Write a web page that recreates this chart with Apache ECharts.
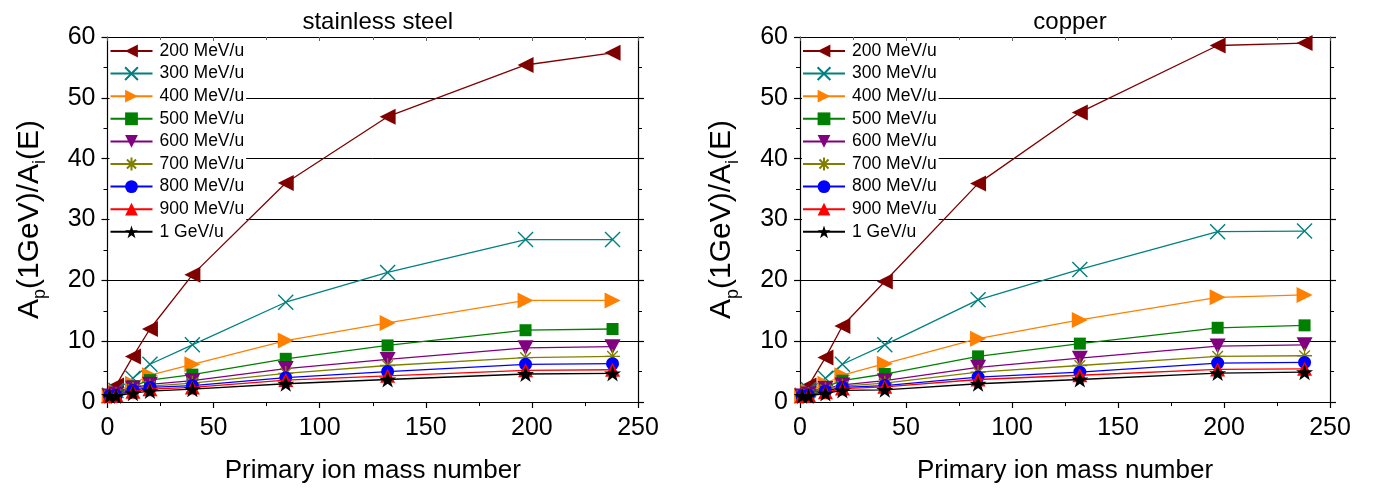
<!DOCTYPE html>
<html>
<head>
<meta charset="utf-8">
<script src="https://cdn.jsdelivr.net/npm/echarts@6/dist/echarts.min.js"></script>
<style>
html,body{margin:0;padding:0;background:#fff;}
#chart{width:1377px;height:489px;}
</style>
</head>
<body>
<div id="chart"></div>
<script>
// Primary ion mass numbers (x)
const massNumbers = [1, 4, 12, 20, 40, 84, 132, 197, 238];
const seriesNames = ['200 MeV/u','300 MeV/u','400 MeV/u','500 MeV/u','600 MeV/u','700 MeV/u','800 MeV/u','900 MeV/u','1 GeV/u'];
const panelTitles = ['stainless steel', 'copper'];
const xTicks = [0, 50, 100, 150, 200, 250];
const yTicks = [0, 10, 20, 30, 40, 50, 60];

// stainless steel
const steel200 = [1.2, 2.7, 7.5, 12.0, 20.9, 36.0, 46.9, 55.4, 57.4];
const steel300 = [1.1, 1.9, 3.9, 6.2, 9.4, 16.4, 21.3, 26.7, 26.7];
const steel400 = [1.0, 1.6, 3.0, 4.4, 6.2, 10.1, 13.0, 16.7, 16.7];
const steel500 = [1.0, 1.4, 2.6, 3.6, 4.5, 7.1, 9.3, 11.8, 12.0];
const steel600 = [1.0, 1.3, 2.3, 2.9, 3.5, 5.5, 7.0, 8.9, 9.1];
const steel700 = [1.0, 1.2, 2.1, 2.6, 3.1, 4.7, 6.0, 7.3, 7.5];
const steel800 = [1.0, 1.1, 1.9, 2.4, 2.7, 4.0, 5.0, 6.2, 6.3];
const steel900 = [1.0, 1.1, 1.7, 2.1, 2.4, 3.6, 4.3, 5.2, 5.3];
const steel1000 = [1.0, 1.0, 1.45, 1.8, 2.1, 3.0, 3.7, 4.6, 4.7];

// copper
const copper200 = [1.2, 2.7, 7.3, 12.5, 19.8, 35.9, 47.6, 58.6, 59.0];
const copper300 = [1.1, 2.0, 3.9, 6.2, 9.4, 16.8, 21.8, 28.0, 28.1];
const copper400 = [1.0, 1.7, 3.0, 4.4, 6.3, 10.4, 13.5, 17.2, 17.6];
const copper500 = [1.0, 1.5, 2.5, 3.5, 4.6, 7.5, 9.6, 12.2, 12.6];
const copper600 = [1.0, 1.3, 2.2, 2.8, 3.5, 5.7, 7.2, 9.2, 9.4];
const copper700 = [1.0, 1.2, 2.0, 2.6, 3.1, 4.9, 6.0, 7.5, 7.6];
const copper800 = [1.0, 1.1, 1.8, 2.4, 2.7, 4.1, 4.9, 6.4, 6.5];
const copper900 = [1.0, 1.1, 1.6, 2.2, 2.5, 3.7, 4.4, 5.35, 5.45];
const copper1000 = [1.0, 1.0, 1.4, 1.9, 2.0, 3.0, 3.7, 4.75, 4.9];

const steelSets = [steel200, steel300, steel400, steel500, steel600, steel700, steel800, steel900, steel1000];
const copperSets = [copper200, copper300, copper400, copper500, copper600, copper700, copper800, copper900, copper1000];

const FONT = 'Liberation Sans, Arial, Helvetica, sans-serif';
const styles = [
  {color:'#800000', symbol:'path://M0,5L10,0L10,10Z', size:[16,16], fill:true},
  {color:'#008080', symbol:'path://M0,0L10,10M10,0L0,10', size:[15,15], fill:false},
  {color:'#FF8000', symbol:'path://M10,5L0,0L0,10Z', size:[16,16], fill:true},
  {color:'#008000', symbol:'rect', size:[12,12], fill:true},
  {color:'#800080', symbol:'path://M0,0L10,0L5,10Z', size:[16,15], fill:true},
  {color:'#808000', symbol:'path://M5,0L5,10M0,5L10,5M1.46,1.46L8.54,8.54M8.54,1.46L1.46,8.54', size:[15,15], fill:false},
  {color:'#0000FF', symbol:'circle', size:[13,13], fill:true},
  {color:'#FF0000', symbol:'triangle', size:[15,14], fill:true},
  {color:'#000000', symbol:'path://M50,0L61.8,35.5L99,35.5L69,57.5L80.3,93L50,71L19.7,93L31,57.5L1,35.5L38.2,35.5Z', size:[17,16], fill:true}
];

function makeSeries(sets, gridIdx) {
  return sets.map((vals, i) => {
    const st = styles[i];
    return {
      name: seriesNames[i],
      type: 'line',
      xAxisIndex: gridIdx * 2,
      yAxisIndex: gridIdx * 2,
      data: massNumbers.map((m, j) => [m, vals[j]]),
      symbol: st.symbol,
      symbolSize: st.size,
      showAllSymbol: true,
      lineStyle: {color: st.color, width: 1.3},
      itemStyle: st.fill ? {color: st.color, borderColor: st.color, borderWidth: 0}
                         : {color: st.color, borderColor: st.color, borderWidth: 1.4},
      emphasis: {disabled: true},
      animation: false,
      z: 3 + i
    };
  });
}

const gridLefts = [107.5, 800];
const gridRights = [739, 47];
const centers = [372.75, 1065];

function xAxes(g) {
  const common = {
    type: 'value', gridIndex: g, min: xTicks[0], max: xTicks[xTicks.length-1], interval: xTicks[1]-xTicks[0],
    axisLine: {show: true, onZero: false, lineStyle: {color: '#000', width: 1.2}},
    splitLine: {show: false}
  };
  return [
    Object.assign({}, common, {
      position: 'bottom',
      axisTick: {show: true, inside: false, length: 6, lineStyle: {color: '#000', width: 1.2}},
      minorTick: {show: true, splitNumber: 2, length: 4, lineStyle: {color: '#000', width: 1}},
      axisLabel: {show: true, color: '#000', fontSize: 25, fontFamily: FONT, margin: 14},
      name: 'Primary ion mass number', nameLocation: 'middle', nameGap: 56,
      nameTextStyle: {color: '#000', fontSize: 26, fontFamily: FONT}
    }),
    Object.assign({}, common, {
      position: 'top',
      axisTick: {show: true, inside: true, length: 4, lineStyle: {color: '#666', width: 1}},
      minorTick: {show: true, splitNumber: 2, length: 3, lineStyle: {color: '#666', width: 1}},
      axisLabel: {show: false}
    })
  ];
}

function yAxes(g) {
  const common = {
    type: 'value', gridIndex: g, min: yTicks[0], max: yTicks[yTicks.length-1], interval: yTicks[1]-yTicks[0],
    axisLine: {show: true, onZero: false, lineStyle: {color: '#000', width: 1.2}},
    axisTick: {show: true, inside: false, length: 6, lineStyle: {color: '#000', width: 1.2}},
    minorTick: {show: true, splitNumber: 2, length: 4, lineStyle: {color: '#000', width: 1}}
  };
  return [
    Object.assign({}, common, {
      position: 'left',
      axisLabel: {show: true, color: '#000', fontSize: 25, fontFamily: FONT, margin: 12},
      splitLine: {show: true, lineStyle: {color: '#000', width: 1}},
      name: '{n|A}{s|p}{n|(1GeV)/A}{s|i}{n|(E)}',
      nameLocation: 'middle', nameGap: 58, nameRotate: 90,
      nameTextStyle: {
        color: '#000', fontFamily: FONT,
        rich: {
          n: {fontSize: 30, lineHeight: 40, fontFamily: FONT, color: '#000'},
          s: {fontSize: 18, lineHeight: 18, verticalAlign: 'bottom', fontFamily: FONT, color: '#000'}
        }
      }
    }),
    Object.assign({}, common, {
      position: 'right',
      axisLabel: {show: false},
      splitLine: {show: false}
    })
  ];
}

function legendFor(g) {
  return {
    orient: 'vertical',
    left: gridLefts[g] + 2,
    top: 42,
    data: seriesNames,
    itemWidth: 42,
    itemHeight: 16,
    itemGap: 4.6,
    padding: [0, 2, 0, 0],
    backgroundColor: '#fff',
    selectedMode: false,
    textStyle: {color: '#000', fontSize: 17.5, fontFamily: FONT, padding: [0,0,0,2]},
    z: 1
  };
}

const option = {
  backgroundColor: '#fff',
  animation: false,
  title: panelTitles.map((t, g) => ({
    text: t, left: centers[g], top: 5, textAlign: 'center',
    textStyle: {color: '#000', fontSize: 24, fontWeight: 'normal', fontFamily: FONT}
  })),
  grid: [0, 1].map(g => ({left: gridLefts[g], right: gridRights[g], top: 37, bottom: 85.7, containLabel: false})),
  xAxis: [].concat(xAxes(0), xAxes(1)),
  yAxis: [].concat(yAxes(0), yAxes(1)),
  legend: [legendFor(0), legendFor(1)],
  series: [].concat(makeSeries(steelSets, 0), makeSeries(copperSets, 1))
};

const chart = echarts.init(document.getElementById('chart'), null, {renderer: 'canvas'});
chart.setOption(option);
</script>
</body>
</html>
